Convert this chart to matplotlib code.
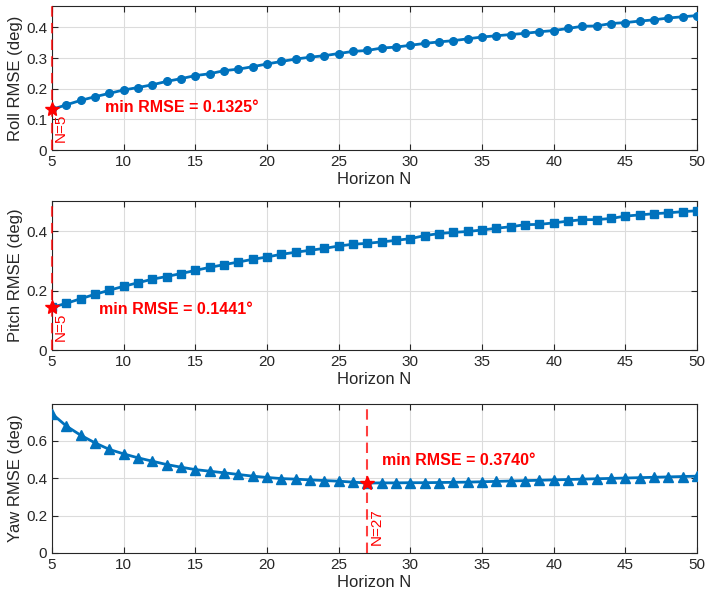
import numpy as np
import matplotlib
matplotlib.use("Agg")
import matplotlib.pyplot as plt

plt.rcParams['font.family'] = ['Liberation Sans', 'DejaVu Sans']

N = list(range(5, 51))

roll = [0.1325, 0.1475, 0.162, 0.174, 0.185, 0.196, 0.204, 0.213, 0.224, 0.233,
        0.243, 0.249, 0.259, 0.264, 0.272, 0.281, 0.289, 0.297, 0.303, 0.308,
        0.315, 0.322, 0.325, 0.333, 0.336, 0.342, 0.348, 0.353, 0.357, 0.363,
        0.369, 0.373, 0.377, 0.381, 0.386, 0.390, 0.397, 0.404, 0.405, 0.413,
        0.416, 0.421, 0.425, 0.431, 0.435, 0.439]

pitch = [0.1441, 0.1575, 0.173, 0.188, 0.2017, 0.215, 0.227, 0.239, 0.248, 0.258,
         0.2686, 0.279, 0.288, 0.297, 0.306, 0.314, 0.323, 0.330, 0.3365, 0.343,
         0.351, 0.357, 0.360, 0.365, 0.370, 0.376, 0.386, 0.393, 0.397, 0.400,
         0.405, 0.411, 0.416, 0.423, 0.424, 0.429, 0.435, 0.440, 0.440, 0.444,
         0.452, 0.456, 0.460, 0.463, 0.467, 0.470]

yaw = [0.745, 0.679, 0.630, 0.589, 0.554, 0.530, 0.509, 0.491, 0.473, 0.459,
       0.446, 0.4375, 0.429, 0.420, 0.411, 0.404, 0.398, 0.395, 0.391, 0.3875,
       0.384, 0.379, 0.3740, 0.375, 0.375, 0.376, 0.376, 0.377, 0.378, 0.379,
       0.381, 0.383, 0.385, 0.387, 0.389, 0.391, 0.393, 0.395, 0.397, 0.399,
       0.401, 0.403, 0.405, 0.407, 0.409, 0.411]

labels = ["Roll RMSE (deg)", "Pitch RMSE (deg)", "Yaw RMSE (deg)"]
markers = ["o", "s", "^"]
msizes = [5.5, 5.5, 7]
yticks = [[0, 0.1, 0.2, 0.3, 0.4], [0, 0.2, 0.4], [0, 0.2, 0.4, 0.6]]
# annotation text positions (data units)
txt_pos = [(8.7, 0.138), (8.3, 0.136), (28.0, 0.493)]
nlab_y = [0.026, 0.03, 0.043]

blue = "#0072BD"
dark = "#262626"
red = "#FF0000"

fig = plt.figure(figsize=(7.12, 6.02), dpi=100)
boxes = [(0.073, 0.7508, 0.906, 0.239),
         (0.073, 0.4186, 0.906, 0.2475),
         (0.073, 0.0814, 0.906, 0.2476)]

for i, y in enumerate([roll, pitch, yaw]):
    ax = fig.add_axes(boxes[i])
    y = np.array(y)
    k = int(np.argmin(y))
    nmin = N[k]
    top = y.max() * 1.07
    ax.plot(N, y, color=blue, lw=2.0, marker=markers[i], ms=msizes[i], zorder=3)
    ax.plot([nmin, nmin], [0, top], color=red, lw=1.5, ls=(0, (5, 3)), alpha=0.75,
            zorder=4, clip_on=False)
    ax.plot(nmin, y[k], marker="*", color=red, ms=10.5, zorder=5, clip_on=False)
    ax.text(txt_pos[i][0], txt_pos[i][1], "min RMSE = %.4f°" % y[k], color=red,
            fontsize=11.5, fontweight="bold", va="center", ha="left")
    ax.text(nmin + 0.15, nlab_y[i], "N=%d" % nmin, color=red, fontsize=11,
            rotation=90, va="bottom", ha="left")
    ax.set_xlim(5, 50)
    ax.set_ylim(0, top)
    ax.set_xticks(range(5, 51, 5))
    ax.set_yticks(yticks[i])
    ax.set_yticklabels([("%g" % v) for v in yticks[i]])
    ax.grid(True, color="#dcdcdc", lw=0.8)
    ax.set_axisbelow(True)
    ax.tick_params(direction="in", top=True, right=True, labelsize=11,
                   colors=dark, length=4)
    for s in ax.spines.values():
        s.set_color(dark)
        s.set_linewidth(0.8)
        s.set_zorder(2.5)
    ax.set_xlabel("Horizon N", fontsize=12, color=dark, labelpad=2)
    ax.set_ylabel(labels[i], fontsize=12, color=dark, labelpad=2)

fig.savefig("out.png", dpi=100)
